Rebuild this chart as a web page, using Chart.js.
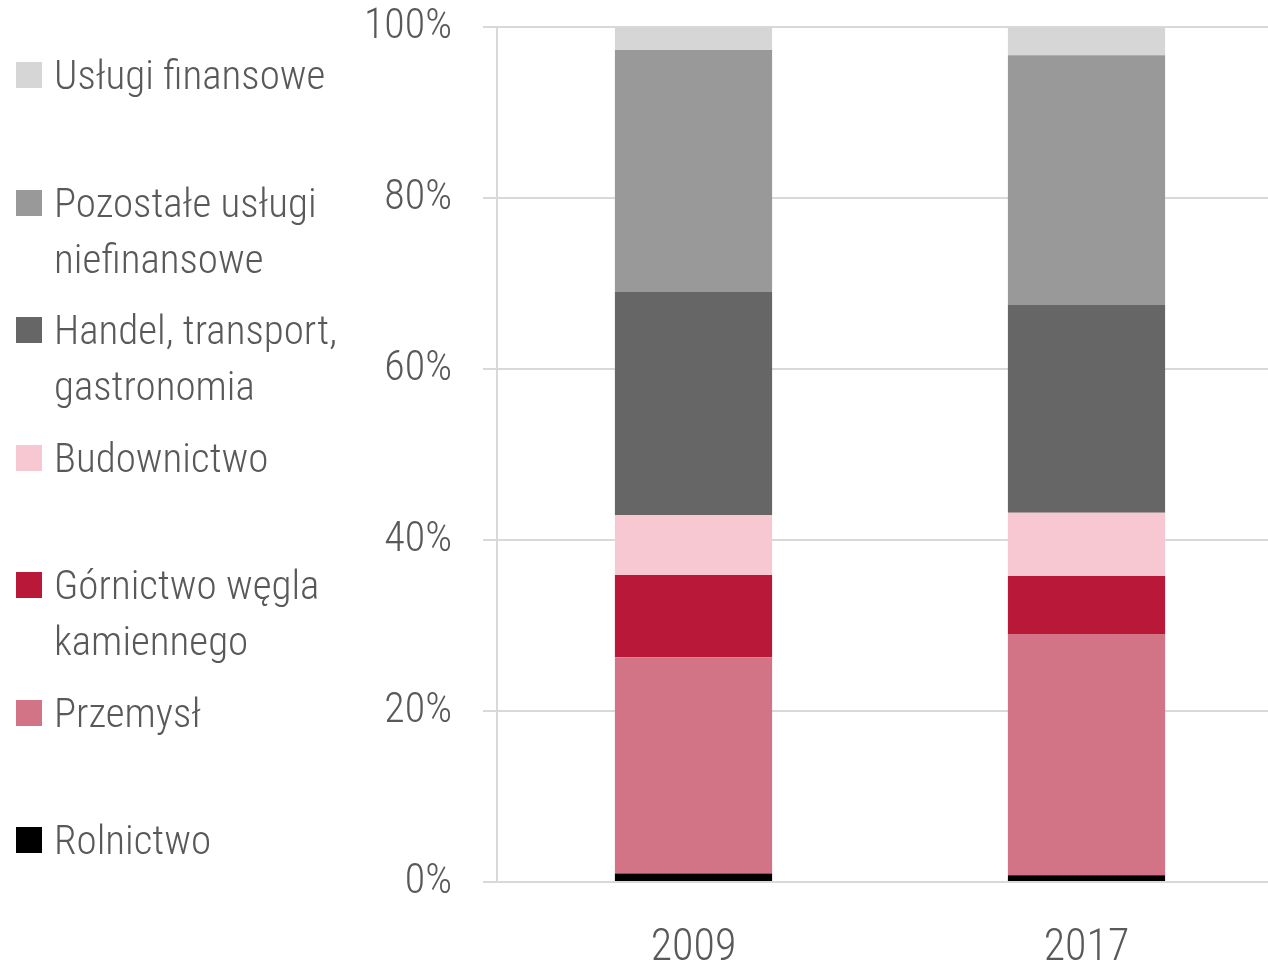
<!DOCTYPE html>
<html>
<head>
<meta charset="utf-8">
<script src="https://cdn.jsdelivr.net/npm/chart.js@4"></script>
<style>
  html, body { margin: 0; padding: 0; background: #fff; overflow: hidden; }
  #wrap { position: relative; width: 1268px; height: 960px; overflow: hidden; }
  #chart { position: absolute; left: 0; top: 0; }
  .legend { position: absolute; left: 16px; font-family: "Roboto Condensed", "Liberation Sans Narrow", "DejaVu Sans Condensed", Roboto, sans-serif;
            font-weight: 300; font-size: 41px; color: #595959; white-space: pre-line; line-height: 56px; }
  .legend .box { position: absolute; left: 0; top: 15px; width: 26px; height: 26px; }
  .legend .txt { position: absolute; left: 38px; top: 0; width: 320px; }
</style>
</head>
<body>
<div id="wrap">
  <canvas id="chart"></canvas>
  <div id="legend"></div>
</div>
<script>
// categories and shares (%), stacked bottom to top
const years = ["2009", "2017"];
const rolnictwo   = [1.0, 0.8];
const przemysl    = [25.3, 28.2];
const gornictwo   = [9.6, 6.8];
const budownictwo = [7.0, 7.4];
const handel      = [26.1, 24.3];
const pozostale   = [28.3, 29.2];
const finansowe   = [2.7, 3.3];
const yTicks = [0, 20, 40, 60, 80, 100];

const series = [
    { label: "Rolnictwo", data: rolnictwo, color: "#000000" },
    { label: "Przemysł", data: przemysl, color: "#d27386" },
    { label: "Górnictwo węgla\nkamiennego", data: gornictwo, color: "#b91838" },
    { label: "Budownictwo", data: budownictwo, color: "#f7c8d2" },
    { label: "Handel, transport,\ngastronomia", data: handel, color: "#666666" },
    { label: "Pozostałe usługi\nniefinansowe", data: pozostale, color: "#999999" },
    { label: "Usługi finansowe", data: finansowe, color: "#d6d6d6" }
];

const fontFamily = '"Roboto Condensed", "Liberation Sans Narrow", "DejaVu Sans Condensed", Roboto, sans-serif';

// legend on the left, top item is the last series
const legendEl = document.getElementById("legend");
series.slice().reverse().forEach((s, i) => {
    const item = document.createElement("div");
    item.className = "legend";
    item.style.top = (47 + i * 127.5) + "px";
    item.innerHTML = '<div class="box"></div><div class="txt"></div>';
    item.querySelector(".box").style.background = s.color;
    item.querySelector(".txt").textContent = s.label;
    legendEl.appendChild(item);
});

const canvas = document.getElementById("chart");
canvas.width = 1290;
canvas.height = 960;

new Chart(canvas, {
    type: "bar",
    data: {
        labels: years,
        datasets: series.map(s => ({
            label: s.label,
            data: s.data,
            backgroundColor: s.color,
            borderWidth: 0,
            barPercentage: 0.4,
            categoryPercentage: 1.0
        }))
    },
    options: {
        responsive: false,
        animation: false,
        devicePixelRatio: 1,
        layout: { padding: { left: 0, right: 7, top: 27, bottom: 0 } },
        plugins: {
            legend: { display: false },
            tooltip: { enabled: false }
        },
        scales: {
            x: {
                stacked: true,
                grid: { display: false },
                border: { display: false },
                ticks: {
                    color: "#595959",
                    padding: 33,
                    font: { family: fontFamily, size: 44, weight: 300 }
                },
                afterFit: (scale) => { scale.height = 78; }
            },
            y: {
                stacked: true,
                min: 0,
                max: 100,
                afterBuildTicks: (scale) => { scale.ticks = yTicks.map(v => ({ value: v })); },
                grid: { color: "#d9d9d9", lineWidth: 2, tickLength: 14 },
                border: { display: true, color: "#d9d9d9", width: 2 },
                ticks: {
                    color: "#595959",
                    padding: 31,
                    font: { family: fontFamily, size: 42, weight: 300, lineHeight: 1.2 },
                    callback: (v) => v + "%"
                },
                afterFit: (scale) => {
                    scale.width = 497;
                    scale.paddingTop = 0;
                    scale.paddingBottom = 0;
                }
            }
        }
    }
});
</script>
</body>
</html>
